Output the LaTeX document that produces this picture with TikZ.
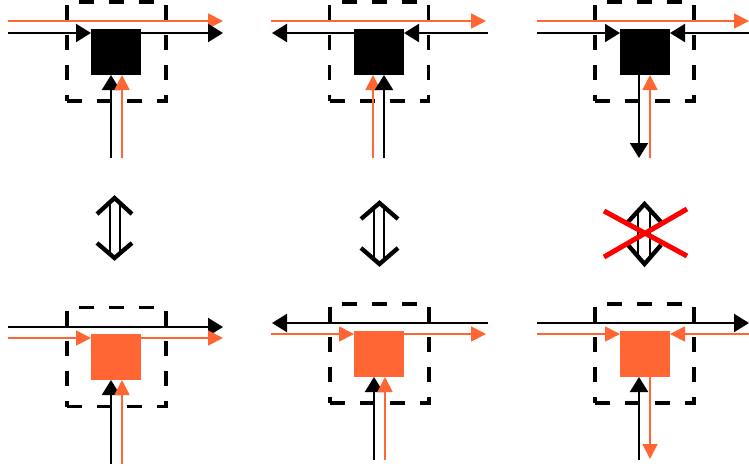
\documentclass[tikz,border=0pt]{standalone}
\usetikzlibrary{arrows.meta}
\definecolor{flow}{RGB}{255,102,51}
\definecolor{xred}{RGB}{255,0,0}
\tikzset{
  sqblack/.style={fill=black,draw=none,minimum width=50pt,minimum height=46pt,inner sep=0pt,outer sep=0pt},
  sqorange/.style={fill=flow,draw=none,minimum width=50pt,minimum height=46pt,inner sep=0pt,outer sep=0pt},
  dbox/.style={draw=black,line width=3.4pt,dash pattern=on 15pt off 15pt,minimum width=99pt,minimum height=99pt,inner sep=0pt,outer sep=0pt},
  barrow/.style={draw=black,line width=2.2pt,-{Triangle[length=15pt,width=18pt]}},
  oarrow/.style={draw=flow,line width=1.8pt,-{Triangle[length=15pt,width=15pt]}},
  chev/.style={draw=black,line width=4.3pt,line join=miter},
  shaft/.style={draw=black,line width=2.8pt},
  cross/.style={draw=xred,line width=5pt},
}
\begin{document}
\begin{tikzpicture}[x=1pt,y=-1pt]
\useasboundingbox (0,0) rectangle (749,472);

% ---------- top row ----------
% panel 1
\node[dbox] (b1) at (116.5,51.5) {};
\node[sqblack] (s1) at (116,52) {};
\coordinate (p1ol) at (8,21);   \coordinate (p1or) at (223,21);
\coordinate (p1bl) at (8,33);   \coordinate (p1br) at (223,33);
\coordinate (p1vb) at (111,158); \coordinate (p1vo) at (122,158);
\draw[oarrow] (p1ol) -- (p1or);
\draw[barrow] (p1bl) -- (p1bl -| s1.west);
\draw[barrow] (p1br -| s1.east) -- (p1br);
\draw[barrow] (p1vb) -- (p1vb |- s1.south);
\draw[oarrow] (p1vo) -- (p1vo |- s1.south);

% panel 2
\node[dbox] (b2) at (379,51.5) {};
\node[sqblack] (s2) at (379,52) {};
\coordinate (p2ol) at (271,21);  \coordinate (p2or) at (486,21);
\coordinate (p2bl) at (272,33);  \coordinate (p2br) at (488,33);
\coordinate (p2vo) at (373,158); \coordinate (p2vb) at (384,158);
\draw[oarrow] (p2ol) -- (p2or);
\draw[barrow] (p2br) -- (p2br -| s2.east);
\draw[barrow] (p2bl -| s2.west) -- (p2bl);
\draw[oarrow] (p2vo) -- (p2vo |- s2.south);
\draw[barrow] (p2vb) -- (p2vb |- s2.south);

% panel 3
\node[dbox] (b3) at (644.5,51.5) {};
\node[sqblack] (s3) at (645,52) {};
\coordinate (p3ol) at (537,21);  \coordinate (p3or) at (749,21);
\coordinate (p3bl) at (537,33);  \coordinate (p3br) at (749,33);
\coordinate (p3vb) at (639,158); \coordinate (p3vo) at (650,158);
\draw[oarrow] (p3ol) -- (p3or);
\draw[barrow] (p3bl) -- (p3bl -| s3.west);
\draw[barrow] (p3br) -- (p3br -| s3.east);
\draw[barrow] (p3vb |- s3.south) -- (p3vb);
\draw[oarrow] (p3vo) -- (p3vo |- s3.south);

% ---------- bottom row ----------
% panel 4
\node[dbox] (b4) at (116.5,357) {};
\node[sqorange] (s4) at (116,357) {};
\coordinate (p4bl) at (8,327);   \coordinate (p4br) at (223,327);
\coordinate (p4ol) at (8,338);   \coordinate (p4or) at (223,338);
\coordinate (p4vb) at (111,464); \coordinate (p4vo) at (122,464);
\draw[barrow] (p4bl) -- (p4br);
\draw[oarrow] (p4ol) -- (p4ol -| s4.west);
\draw[oarrow] (p4or -| s4.east) -- (p4or);
\draw[barrow] (p4vb) -- (p4vb |- s4.south);
\draw[oarrow] (p4vo) -- (p4vo |- s4.south);

% panel 5
\node[dbox] (b5) at (379.5,353.5) {};
\node[sqorange] (s5) at (379,354) {};
\coordinate (p5bl) at (272,323); \coordinate (p5br) at (488,323);
\coordinate (p5ol) at (271,334); \coordinate (p5or) at (486,334);
\coordinate (p5vb) at (374,460); \coordinate (p5vo) at (385,460);
\draw[barrow] (p5br) -- (p5bl);
\draw[oarrow] (p5ol) -- (p5ol -| s5.west);
\draw[oarrow] (p5or -| s5.east) -- (p5or);
\draw[barrow] (p5vb) -- (p5vb |- s5.south);
\draw[oarrow] (p5vo) -- (p5vo |- s5.south);

% panel 6
\node[dbox] (b6) at (644.5,353.5) {};
\node[sqorange] (s6) at (645,354) {};
\coordinate (p6bl) at (537,323); \coordinate (p6br) at (749,323);
\coordinate (p6ol) at (537,334); \coordinate (p6or) at (749,334);
\coordinate (p6vb) at (639,460); \coordinate (p6vo) at (650,459);
\draw[barrow] (p6bl) -- (p6br);
\draw[oarrow] (p6ol) -- (p6ol -| s6.west);
\draw[oarrow] (p6or) -- (p6or -| s6.east);
\draw[barrow] (p6vb) -- (p6vb |- s6.south);
\draw[oarrow] (p6vo |- s6.south) -- (p6vo);

% ---------- equivalence symbols ----------
% symbol 1
\draw[shaft] (110,201) -- (110,254);
\draw[shaft] (120,201) -- (120,254);
\draw[chev] (97,214) -- (114.5,198) -- (132,214);
\draw[chev] (97,243) -- (114.5,258) -- (132,243);

% symbol 2
\draw[shaft] (374,206) -- (374,260);
\draw[shaft] (384,206) -- (384,260);
\draw[chev] (361,219) -- (379.5,203) -- (398,219);
\draw[chev] (361,248) -- (379.5,264) -- (398,248);

% symbol 3 (crossed out)
\draw[shaft] (638,209) -- (638,258);
\draw[shaft] (650,209) -- (650,258);
\draw[chev] (628,222) -- (644.5,204) -- (661,222);
\draw[chev] (628,245) -- (644.5,264) -- (661,245);
\draw[cross] (604,211) -- (687,256);
\draw[cross] (604,257) -- (687,209);
\end{tikzpicture}
\end{document}
